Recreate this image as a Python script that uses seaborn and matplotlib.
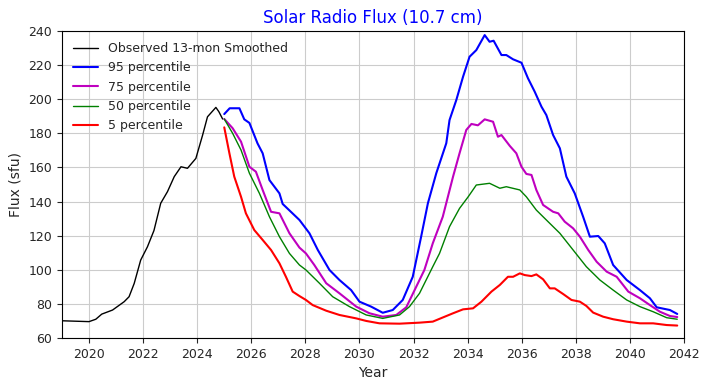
import matplotlib
matplotlib.use("Agg")
import matplotlib.pyplot as plt
import seaborn as sns
import pandas as pd

sns.set_style("ticks")
plt.rcParams['font.family'] = ['DejaVu Sans']

obs_year = [2019.0, 2020.0, 2020.25, 2020.47, 2020.87, 2021.3, 2021.48, 2021.67, 2021.91,
            2022.16, 2022.4, 2022.65, 2022.9, 2023.15, 2023.4, 2023.64, 2023.95, 2024.2,
            2024.38, 2024.69, 2024.8, 2024.94]
obs_flux = [70.1, 69.6, 71.0, 74.0, 76.4, 81.3, 84.2, 92.0, 105.7,
            113.5, 123.0, 139.0, 145.8, 154.6, 160.4, 159.5, 165.3, 179.0,
            189.7, 195.2, 192.7, 188.4]

p95_year = [2025.0, 2025.2, 2025.56, 2025.74, 2025.93, 2026.23, 2026.42, 2026.67, 2027.04,
            2027.16, 2027.78, 2028.15, 2028.46, 2028.89, 2029.26, 2029.69, 2030.0, 2030.43,
            2030.86, 2031.23, 2031.6, 2031.97, 2032.28, 2032.53, 2032.84, 2033.21, 2033.33,
            2033.58, 2033.83, 2034.07, 2034.32, 2034.63, 2034.81, 2034.96, 2035.25, 2035.43,
            2035.68, 2035.99, 2036.23, 2036.48, 2036.73, 2036.91, 2037.16, 2037.41, 2037.65,
            2037.96, 2038.27, 2038.52, 2038.83, 2039.07, 2039.38, 2039.88, 2040.37, 2040.74,
            2040.99, 2041.48, 2041.75]
p95_flux = [191.3, 194.7, 194.7, 188.2, 186.1, 174.1, 168.3, 152.6, 144.8,
            138.6, 129.2, 121.4, 111.6, 99.9, 94.0, 88.1, 81.3, 78.4,
            74.8, 76.4, 82.3, 95.9, 119.4, 139.0, 156.6, 174.2, 187.8,
            199.5, 213.2, 224.9, 228.8, 237.6, 233.7, 234.3, 225.9, 225.9,
            223.4, 221.4, 212.3, 204.4, 195.6, 190.7, 179.0, 171.2, 154.6,
            144.8, 131.1, 119.4, 119.8, 115.5, 102.8, 94.0, 88.1, 83.3,
            78.0, 76.4, 74.1]

p75_year = [2025.0, 2025.31, 2025.62, 2025.93, 2026.17, 2026.42, 2026.73, 2027.04, 2027.41,
            2027.78, 2028.02, 2028.33, 2028.77, 2029.26, 2029.88, 2030.37, 2030.86, 2031.36,
            2031.73, 2032.1, 2032.4, 2032.71, 2033.08, 2033.46, 2033.7, 2033.95, 2034.14,
            2034.38, 2034.63, 2034.94, 2035.12, 2035.25, 2035.56, 2035.8, 2035.99, 2036.17,
            2036.36, 2036.54, 2036.79, 2037.16, 2037.35, 2037.59, 2037.9, 2038.15, 2038.46,
            2038.77, 2039.14, 2039.51, 2039.94, 2040.37, 2040.74, 2041.11, 2041.48, 2041.75]
p75_flux = [188.4, 183.0, 175.1, 160.4, 157.5, 146.8, 134.0, 133.1, 121.4,
            113.0, 109.6, 102.8, 92.1, 86.2, 78.4, 74.5, 72.5, 73.5,
            78.0, 90.1, 99.9, 115.5, 131.1, 154.6, 168.3, 182.0, 185.5,
            184.7, 188.2, 186.8, 178.0, 179.0, 172.6, 168.3, 160.4, 156.2,
            155.6, 146.8, 138.0, 134.0, 133.1, 128.2, 124.3, 119.4, 111.6,
            104.7, 98.9, 95.9, 87.2, 83.3, 79.3, 75.4, 72.9, 72.3]

p50_year = [2025.0, 2025.31, 2025.62, 2025.93, 2026.3, 2026.67, 2027.04, 2027.41, 2027.78,
            2028.02, 2028.52, 2029.01, 2029.63, 2030.25, 2030.86, 2031.48, 2031.85, 2032.22,
            2032.71, 2032.96, 2033.33, 2033.7, 2034.02, 2034.32, 2034.81, 2035.19, 2035.43,
            2035.93, 2036.17, 2036.54, 2036.91, 2037.41, 2037.9, 2038.39, 2038.89, 2039.38,
            2039.88, 2040.37, 2040.86, 2041.36, 2041.75]
p50_flux = [188.4, 180.0, 170.2, 156.6, 144.8, 131.1, 119.4, 109.6, 102.8,
            99.9, 92.1, 84.2, 78.4, 73.5, 71.5, 73.5, 78.4, 86.2,
            101.8, 109.6, 125.3, 136.0, 142.8, 149.7, 150.7, 147.8, 148.7,
            146.8, 142.8, 135.0, 129.2, 121.4, 111.6, 101.8, 94.0, 88.1,
            82.3, 78.4, 75.4, 71.9, 71.0]

p5_year = [2025.0, 2025.19, 2025.37, 2025.62, 2025.8, 2026.11, 2026.42, 2026.73, 2027.04,
           2027.28, 2027.53, 2027.78, 2028.02, 2028.27, 2028.77, 2029.26, 2029.88, 2030.25,
           2030.74, 2031.48, 2032.22, 2032.71, 2033.0, 2033.46, 2033.83, 2034.2, 2034.51,
           2034.88, 2035.19, 2035.49, 2035.68, 2035.93, 2036.11, 2036.36, 2036.54, 2036.79,
           2037.04, 2037.22, 2037.53, 2037.84, 2038.15, 2038.39, 2038.64, 2039.01, 2039.38,
           2039.88, 2040.37, 2040.86, 2041.36, 2041.75]
p5_flux = [183.5, 168.3, 154.6, 142.8, 133.1, 123.3, 117.5, 111.6, 103.8,
           95.9, 87.2, 84.6, 82.3, 79.3, 76.0, 73.5, 71.5, 70.0,
           68.6, 68.4, 69.0, 69.6, 71.5, 74.5, 76.8, 77.4, 81.3,
           87.2, 91.1, 95.9, 95.9, 97.9, 96.9, 96.3, 97.3, 94.4,
           89.1, 89.1, 85.8, 82.3, 81.3, 78.8, 74.9, 72.5, 71.0,
           69.6, 68.6, 68.6, 67.6, 67.3]

series = [
    ("Observed 13-mon Smoothed", obs_year, obs_flux, "black", 1.0),
    ("95 percentile", p95_year, p95_flux, "blue", 1.5),
    ("75 percentile", p75_year, p75_flux, "m", 1.5),
    ("50 percentile", p50_year, p50_flux, "green", 1.0),
    ("5 percentile", p5_year, p5_flux, "red", 1.5),
]

fig = plt.figure(figsize=(7.09, 3.90), dpi=100)
ax = fig.add_axes([62/709, 1-338/390, (684-62)/709, (338-31)/390])

for name, xs, ys, col, lw in series:
    df = pd.DataFrame({"Year": xs, "Flux": ys})
    sns.lineplot(data=df, x="Year", y="Flux", color=col, lw=lw, label=name,
                 ax=ax, sort=False, estimator=None)

ax.set_xlim(2019, 2042)
ax.set_ylim(60, 240)
ax.set_xticks(range(2020, 2043, 2))
ax.set_yticks(range(60, 241, 20))
ax.grid(True, color="#cccccc", lw=0.8)
ax.set_axisbelow(True)
ax.tick_params(direction="out", length=3.5, width=0.8, labelsize=9)
for s in ax.spines.values():
    s.set_linewidth(0.8)
    s.set_color("black")
ax.set_xlabel("Year", fontsize=10)
ax.set_ylabel("Flux (sfu)", fontsize=10)
ax.set_title("Solar Radio Flux (10.7 cm)", color="blue", fontsize=12)
leg = ax.legend(loc="upper left", frameon=False, fontsize=9)

fig.savefig("out.png", dpi=100)
